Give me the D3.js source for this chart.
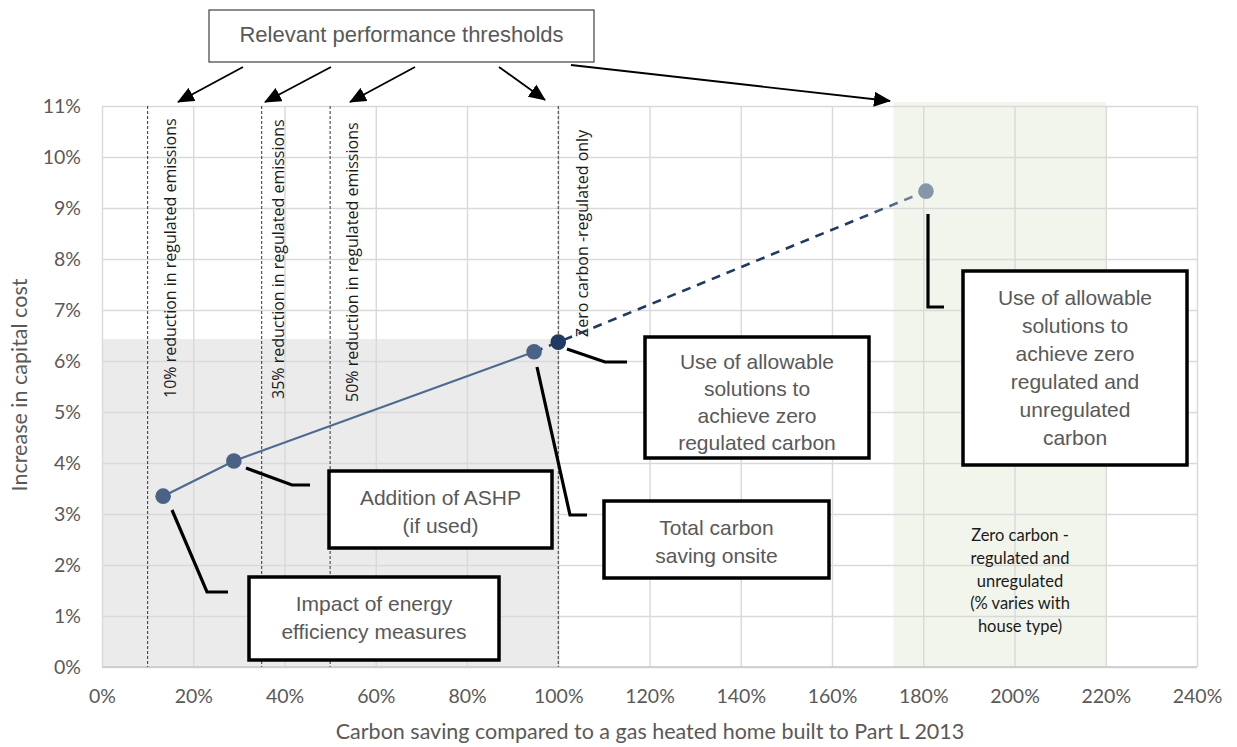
<!DOCTYPE html>
<html>
<head>
<meta charset="utf-8">
<script src="https://cdn.jsdelivr.net/npm/d3@7"></script>
<style>
  html, body { margin: 0; padding: 0; background: #fff; }
  svg { display: block; }
</style>
</head>
<body>
<svg id="chart" width="1237" height="747"></svg>
<script>
// ---- Data ----
const xTicks = [0, 20, 40, 60, 80, 100, 120, 140, 160, 180, 200, 220, 240];
const yTicks = [0, 1, 2, 3, 4, 5, 6, 7, 8, 9, 10, 11];
const pointX = [13.4, 28.9, 94.7, 100, 180.6];
const pointY = [3.35, 4.04, 6.18, 6.37, 9.33];
const thresholdX = [10, 35, 50, 100];
const thresholdLabels = [
  "10% reduction in regulated emissions",
  "35% reduction in regulated emissions",
  "50% reduction in regulated emissions",
  "Zero carbon -regulated only"
];
const grayRegion = [0, 100, 0, 6.43];        // x0, x1, y0, y1
const greenRegion = [173.5, 220, 0, 11.08];  // x0, x1, y0, y1
const greenText = ["Zero carbon -", "regulated and", "unregulated", "(% varies with", "house type)"];
const xTitle = "Carbon saving compared to a gas heated home built to Part L 2013";
const yTitle = "Increase in capital cost";
const topBoxText = "Relevant performance thresholds";
const calloutTexts = [
  ["Impact of energy", "efficiency measures"],
  ["Addition of ASHP", "(if used)"],
  ["Total carbon", "saving onsite"],
  ["Use of allowable", "solutions to", "achieve zero", "regulated carbon"],
  ["Use of allowable", "solutions to", "achieve zero", "regulated and", "unregulated", "carbon"]
];

// ---- Layout ----
const svg = d3.select("#chart");
const x = d3.scaleLinear().domain([0, 240]).range([102, 1197]);
const y = d3.scaleLinear().domain([0, 11]).range([667, 106]);
const axisFont = "Lato, 'Open Sans', sans-serif";
const boxFont = "'Liberation Sans', Arial, sans-serif";

const defs = svg.append("defs");
defs.append("marker").attr("id", "arrow")
  .attr("markerUnits", "userSpaceOnUse")
  .attr("markerWidth", 17).attr("markerHeight", 15)
  .attr("refX", 16).attr("refY", 7.5).attr("orient", "auto")
  .append("path").attr("d", "M0,0 L17,7.5 L0,15 Z").attr("fill", "#000");

const grad = defs.append("linearGradient").attr("id", "dashGrad")
  .attr("gradientUnits", "userSpaceOnUse")
  .attr("x1", x(pointX[2])).attr("y1", 0).attr("x2", x(pointX[4])).attr("y2", 0);
grad.append("stop").attr("offset", "0").attr("stop-color", "#1F3A60");
grad.append("stop").attr("offset", "0.82").attr("stop-color", "#1F3A60");
grad.append("stop").attr("offset", "1").attr("stop-color", "#8497A8");

// Regions
svg.append("rect")
  .attr("x", x(grayRegion[0])).attr("y", y(grayRegion[3]))
  .attr("width", x(grayRegion[1]) - x(grayRegion[0]))
  .attr("height", y(grayRegion[2]) - y(grayRegion[3]))
  .attr("fill", "#EBEBEB");
svg.append("rect")
  .attr("x", x(greenRegion[0])).attr("y", y(greenRegion[3]))
  .attr("width", x(greenRegion[1]) - x(greenRegion[0]))
  .attr("height", y(greenRegion[2]) - y(greenRegion[3]))
  .attr("fill", "#F2F5EC");

// Gridlines
const gridX = svg.append("g").attr("transform", `translate(0,${y(0)})`)
  .call(d3.axisBottom(x).tickValues(xTicks).tickSize(-(y(0) - y(11))).tickFormat(""));
const gridY = svg.append("g").attr("transform", `translate(${x(0)},0)`)
  .call(d3.axisLeft(y).tickValues(yTicks).tickSize(-(x(240) - x(0))).tickFormat(""));
[gridX, gridY].forEach(g => {
  g.select(".domain").remove();
  g.selectAll(".tick line").attr("stroke", "#D9D9D9").attr("stroke-width", 1.4);
});
svg.append("line").attr("x1", x(0)).attr("x2", x(240)).attr("y1", y(0)).attr("y2", y(0))
  .attr("stroke", "#C8C8C8").attr("stroke-width", 1.6);

// Tick labels
const xAxis = svg.append("g").attr("transform", `translate(0,${y(0)})`)
  .call(d3.axisBottom(x).tickValues(xTicks).tickSize(0).tickPadding(22).tickFormat(d => d + "%"));
const yAxis = svg.append("g").attr("transform", `translate(${x(0)},0)`)
  .call(d3.axisLeft(y).tickValues(yTicks).tickSize(0).tickPadding(21).tickFormat(d => d + "%"));
[xAxis, yAxis].forEach(g => {
  g.select(".domain").remove();
  g.selectAll("text").attr("fill", "#595959").style("font-family", axisFont).style("font-size", "19.5px");
});

// Axis titles
svg.append("text").attr("x", 650).attr("y", 739)
  .attr("text-anchor", "middle").attr("fill", "#595959")
  .style("font-family", axisFont).style("font-size", "21.5px").text(xTitle);
svg.append("text").attr("transform", `translate(27,${385}) rotate(-90)`)
  .attr("text-anchor", "middle").attr("fill", "#595959")
  .style("font-family", axisFont).style("font-size", "21.5px").text(yTitle);

// Threshold lines
svg.selectAll(".thr").data(thresholdX).join("line")
  .attr("x1", d => x(d)).attr("x2", d => x(d))
  .attr("y1", y(11)).attr("y2", y(0))
  .attr("stroke", "#333").attr("stroke-width", 1).attr("stroke-dasharray", "3,2");

const labelPos = [[170, 398], [278, 399], [352, 402], [582, 337]];
thresholdLabels.forEach((t, i) => {
  svg.append("text")
    .attr("transform", `translate(${labelPos[i][0] + 5.5},${labelPos[i][1]}) rotate(-90)`)
    .attr("fill", "#1a1a1a")
    .style("font-family", "'Open Sans', sans-serif").style("font-size", "16px")
    .text(t);
});

// Green region text
greenText.forEach((t, i) => {
  svg.append("text").attr("x", 1020).attr("y", 535 + i * 22.8)
    .attr("text-anchor", "middle").attr("dominant-baseline", "central")
    .attr("fill", "#1a1a1a")
    .style("font-family", axisFont).style("font-size", "16.5px").text(t);
});

// Series lines
const pts = pointX.map((d, i) => [x(d), y(pointY[i])]);
const line = d3.line();
svg.append("path").attr("d", line(pts.slice(0, 3)))
  .attr("fill", "none").attr("stroke", "#4E6A8E").attr("stroke-width", 2.2);
svg.append("path").attr("d", line(pts.slice(2, 5)))
  .attr("fill", "none").attr("stroke", "url(#dashGrad)").attr("stroke-width", 2.6)
  .attr("stroke-dasharray", "9,7");

const ptColors = ["#4A6285", "#4A6285", "#4A6285", "#1F3B63", "#8497A8"];
svg.selectAll(".pt").data(pts).join("circle")
  .attr("cx", d => d[0]).attr("cy", d => d[1]).attr("r", 7.8)
  .attr("fill", (d, i) => ptColors[i]);

// Connectors
const connectors = [
  [[172, 510], [207, 592], [228, 592]],
  [[246, 468], [292, 485], [310, 485]],
  [[537, 367], [570, 515], [587, 515]],
  [[567, 349], [605, 362], [627, 362]],
  [[928, 214], [928, 307], [944, 307]]
];
connectors.forEach(c => {
  svg.append("path").attr("d", d3.line()(c))
    .attr("fill", "none").attr("stroke", "#000").attr("stroke-width", 3.2);
});

// Callout boxes: x, y, w, h, first line centre, line spacing
const boxes = [
  [249, 577, 250, 83, 603, 28],
  [329, 471, 223, 77, 497, 28],
  [604, 501, 225, 77, 527, 28],
  [645, 337, 224, 121, 361, 27],
  [963, 271, 224, 194, 297, 28]
];
boxes.forEach((b, i) => {
  svg.append("rect").attr("x", b[0]).attr("y", b[1]).attr("width", b[2]).attr("height", b[3])
    .attr("fill", "#fff").attr("stroke", "#000").attr("stroke-width", 3.5);
  calloutTexts[i].forEach((t, j) => {
    svg.append("text").attr("x", b[0] + b[2] / 2).attr("y", b[4] + j * b[5])
      .attr("text-anchor", "middle").attr("dominant-baseline", "central")
      .attr("fill", "#595959")
      .style("font-family", boxFont).style("font-size", "21px").text(t);
  });
});

// Top box
svg.append("rect").attr("x", 209).attr("y", 10).attr("width", 385).attr("height", 52)
  .attr("fill", "#fff").attr("stroke", "#404040").attr("stroke-width", 1.2);
svg.append("text").attr("x", 401.5).attr("y", 34)
  .attr("text-anchor", "middle").attr("dominant-baseline", "central")
  .attr("fill", "#595959").style("font-family", boxFont).style("font-size", "22px").text(topBoxText);

// Arrows
const arrows = [
  [[243, 67], [178, 102]],
  [[331, 67], [265, 102]],
  [[415, 67], [350, 102]],
  [[499, 67], [545, 100]],
  [[571, 65], [890, 101]]
];
arrows.forEach(a => {
  svg.append("line").attr("x1", a[0][0]).attr("y1", a[0][1]).attr("x2", a[1][0]).attr("y2", a[1][1])
    .attr("stroke", "#000").attr("stroke-width", 1.8).attr("marker-end", "url(#arrow)");
});
</script>
</body>
</html>
